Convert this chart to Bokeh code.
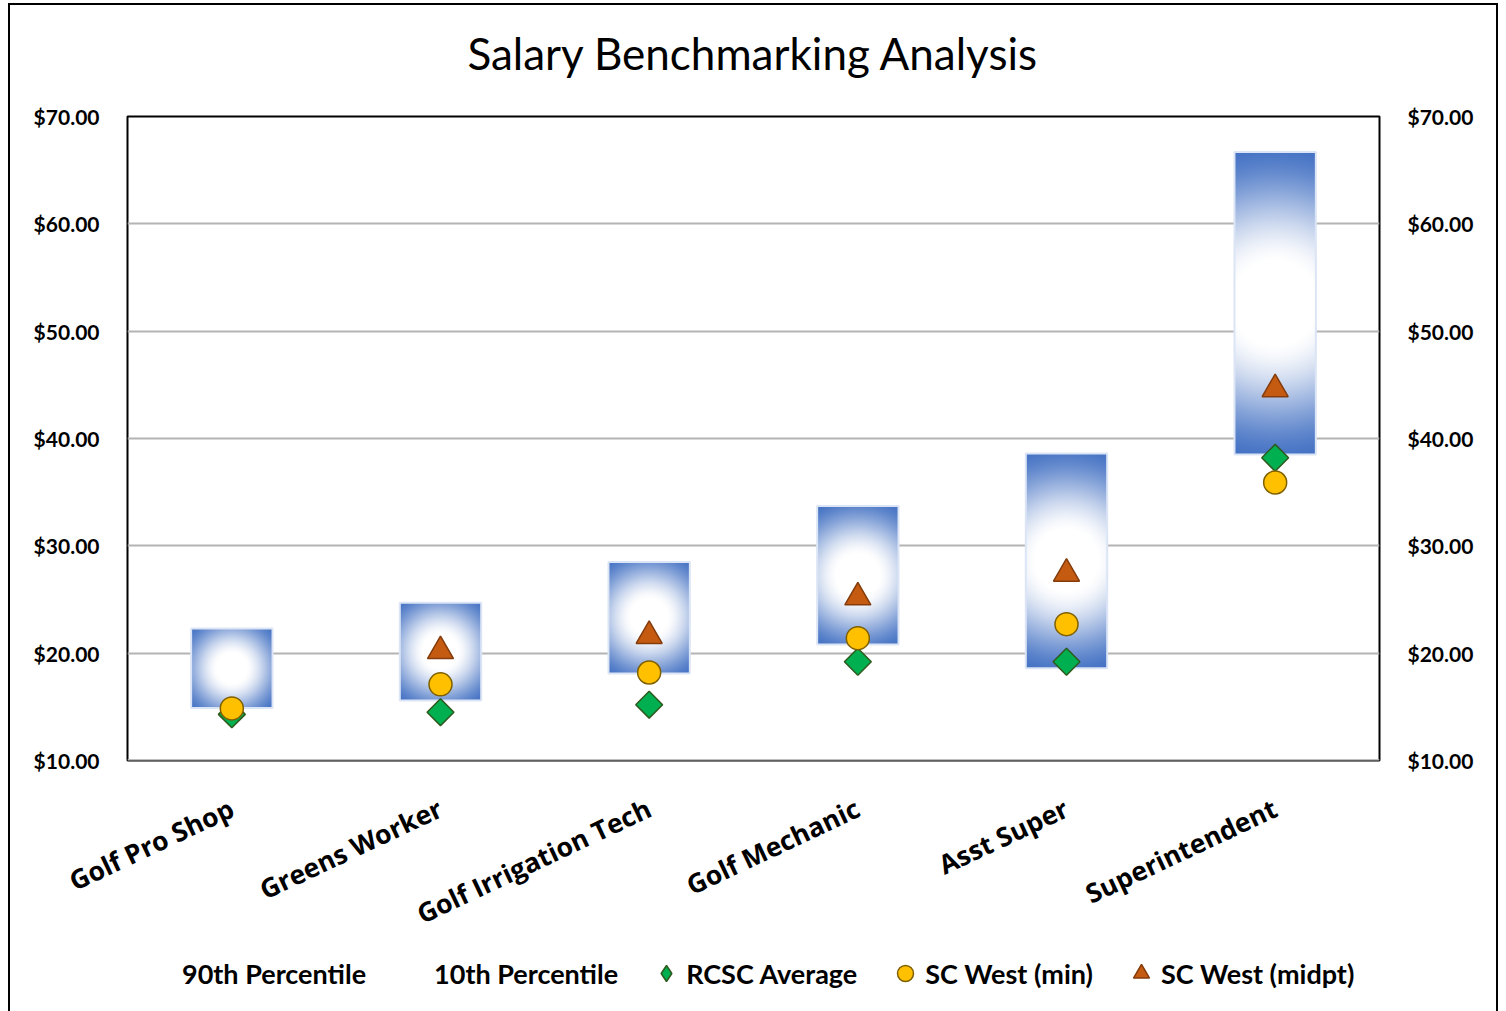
import numpy as np
from bokeh.plotting import figure
from bokeh.layouts import column
from bokeh.core.properties import value
from bokeh.models import (Range1d, LinearAxis, FixedTicker, NumeralTickFormatter,
                          Legend, LegendItem, Span)
from bokeh.embed import file_html
from bokeh.resources import INLINE

# ---------------- data ----------------
title_text = "Salary Benchmarking Analysis"
categories = ["Golf Pro Shop", "Greens Worker", "Golf Irrigation Tech",
              "Golf Mechanic", "Asst Super", "Superintendent"]
pct90 = [22.3, 24.7, 28.5, 33.7, 38.6, 66.7]
pct10 = [14.9, 15.6, 18.1, 20.8, 18.6, 38.5]
rcsc_avg = [14.3, 14.5, 15.2, 19.2, 19.2, 38.2]
scw_min = [14.85, 17.1, 18.2, 21.4, 22.7, 35.9]
scw_mid = [float("nan"), 20.2, 21.6, 25.2, 27.4, 44.6]
y_ticks = [10, 20, 30, 40, 50, 60, 70]
legend_labels = ["90th Percentile", "10th Percentile", "RCSC Average",
                 "SC West (min)", "SC West (midpt)"]

# ---------------- styles ----------------
AVG_STYLE = dict(fill_color="#00B050", line_color="#2E5A1E", line_width=1.5)
MIN_STYLE = dict(fill_color="#FFC000", line_color="#7F6000", line_width=1.5)
MID_STYLE = dict(fill_color="#C55A11", line_color="#843C0C", line_width=1.5)

# ---------------- layout ----------------
W = 1486
TITLE_H = 90
H = 855
LEG_H = 61
ML, MR, MT, MB = 117, 117, 21, 190
FW, FH = W - ML - MR, H - MT - MB
X0, X1 = -0.5, len(categories) - 0.5
Y0, Y1 = 10, 70
BAR_W = 0.39


def strip(height):
    f = figure(width=W, height=height, x_range=Range1d(0, 1), y_range=Range1d(0, 1),
               output_backend="svg", toolbar_location=None,
               x_axis_location=None, y_axis_location=None, min_border=0)
    f.outline_line_color = None
    f.grid.visible = False
    f.background_fill_color = "white"
    f.border_fill_color = "white"
    return f


# ---------------- title strip ----------------
tf = strip(TITLE_H)
tf.text(x=[0.5], y=[0.47], text=[title_text], text_align="center",
        text_baseline="middle", text_font=value("Lato"), text_font_size="44px",
        text_color="black")

# ---------------- main chart ----------------
p = figure(width=W, height=H, x_range=Range1d(X0, X1), y_range=Range1d(Y0, Y1),
           output_backend="svg", toolbar_location=None,
           min_border_left=ML, min_border_right=MR, min_border_top=MT, min_border_bottom=MB)
p.background_fill_color = "white"
p.border_fill_color = "white"
p.outline_line_color = "black"
p.outline_line_width = 2

# grid
p.xgrid.visible = False
p.ygrid.ticker = FixedTicker(ticks=y_ticks)
p.ygrid.grid_line_color = "#B4B4B4"
p.ygrid.grid_line_width = 2

# x axis
xpos = list(range(len(categories)))
xa = p.xaxis[0]
xa.ticker = FixedTicker(ticks=xpos)
xa.major_label_overrides = {i: c for i, c in enumerate(categories)}
xa.major_label_orientation = 0.44
xa.major_label_text_font = "Open Sans"
xa.major_label_text_font_style = "bold"
xa.major_label_text_font_size = "26.5px"
xa.major_label_text_color = "black"
xa.major_label_standoff = 40
xa.axis_line_color = None
xa.major_tick_line_color = None
xa.minor_tick_line_color = None


# y axes
def style_y(ax):
    ax.ticker = FixedTicker(ticks=y_ticks)
    ax.formatter = NumeralTickFormatter(format="$0.00")
    ax.major_label_text_font = "Lato"
    ax.major_label_text_font_style = "bold"
    ax.major_label_text_font_size = "21px"
    ax.major_label_text_color = "black"
    ax.major_label_standoff = 22
    ax.axis_line_color = None
    ax.major_tick_line_color = None
    ax.minor_tick_line_color = None


style_y(p.yaxis[0])
ra = LinearAxis()
style_y(ra)
p.add_layout(ra, "right")

# bottom gray edge
p.add_layout(Span(location=Y0, dimension="width", line_color="#BFBFBF", line_width=3))

# ---------------- gradient bars ----------------
px_per_x = FW / (X1 - X0)
px_per_y = FH / (Y1 - Y0)
blue = np.array([68, 114, 196], dtype=float)
white = np.array([255, 255, 255], dtype=float)
imgs, xs, ys, dws, dhs = [], [], [], [], []
for i in range(len(categories)):
    lo, hi = pct10[i], pct90[i]
    wpx = max(2, int(round(BAR_W * px_per_x)))
    hpx = max(2, int(round((hi - lo) * px_per_y)))
    yy, xx = np.mgrid[0:hpx, 0:wpx]
    dx = xx + 0.5 - wpx / 2
    dy = yy + 0.5 - hpx / 2
    corner = np.hypot(wpx / 2, hpx / 2)
    r = np.hypot(dx, dy) / corner
    s = np.clip((r - 0.28) / 0.72, 0, 1)
    t = s * s * (3 - 2 * s) * 0.6 + s * 0.4
    rgb = white[None, None, :] * (1 - t[..., None]) + blue[None, None, :] * t[..., None]
    img = np.empty((hpx, wpx), dtype=np.uint32)
    view = img.view(dtype=np.uint8).reshape((hpx, wpx, 4))
    view[..., 0] = rgb[..., 0].astype(np.uint8)
    view[..., 1] = rgb[..., 1].astype(np.uint8)
    view[..., 2] = rgb[..., 2].astype(np.uint8)
    view[..., 3] = 255
    imgs.append(img)
    xs.append(xpos[i] - BAR_W / 2)
    ys.append(lo)
    dws.append(BAR_W)
    dhs.append(hi - lo)

p.image_rgba(image=imgs, x=xs, y=ys, dw=dws, dh=dhs)
bar_mid = [(a + b) / 2 for a, b in zip(pct10, pct90)]
bar_h = [b - a for a, b in zip(pct10, pct90)]
p.rect(x=xpos, y=bar_mid, width=BAR_W, height=bar_h, fill_color=None,
       line_color="#DCE5F5", line_width=2)

# ---------------- markers ----------------
p.scatter(xpos, rcsc_avg, marker="square", angle=np.pi / 4, size=19, **AVG_STYLE)
p.scatter(xpos, scw_min, marker="circle", size=23, **MIN_STYLE)
p.scatter(xpos, scw_mid, marker="triangle", size=26, **MID_STYLE)

# ---------------- legend strip ----------------
lg = strip(LEG_H)
g90 = lg.scatter([-10], [-10], marker="square", size=10, fill_alpha=0, line_alpha=0)
g10 = lg.scatter([-10], [-10], marker="square", size=10, fill_alpha=0, line_alpha=0)
gavg = lg.scatter([-10], [-10], marker="diamond", **AVG_STYLE)
gmin = lg.scatter([-10], [-10], marker="circle", **MIN_STYLE)
gmid = lg.scatter([-10], [-10], marker="triangle", **MID_STYLE)
legend = Legend(items=[LegendItem(label=lab, renderers=[r]) for lab, r in
                       zip(legend_labels, [g90, g10, gavg, gmin, gmid])],
                orientation="horizontal", location=(15, 18))
legend.label_text_font = "Lato"
legend.label_text_font_style = "bold"
legend.label_text_font_size = "27px"
legend.label_text_color = "black"
legend.glyph_width = 40
legend.glyph_height = 40
legend.label_standoff = 0
legend.spacing = 28
legend.padding = 0
legend.margin = 0
legend.border_line_color = None
legend.background_fill_alpha = 0
lg.add_layout(legend, "center")

layout = column(tf, p, lg, spacing=0)
layout.styles = {"border": "2px solid #000000", "margin-left": "8px", "margin-top": "3px"}

open("out.html", "w").write(file_html(layout, INLINE))
